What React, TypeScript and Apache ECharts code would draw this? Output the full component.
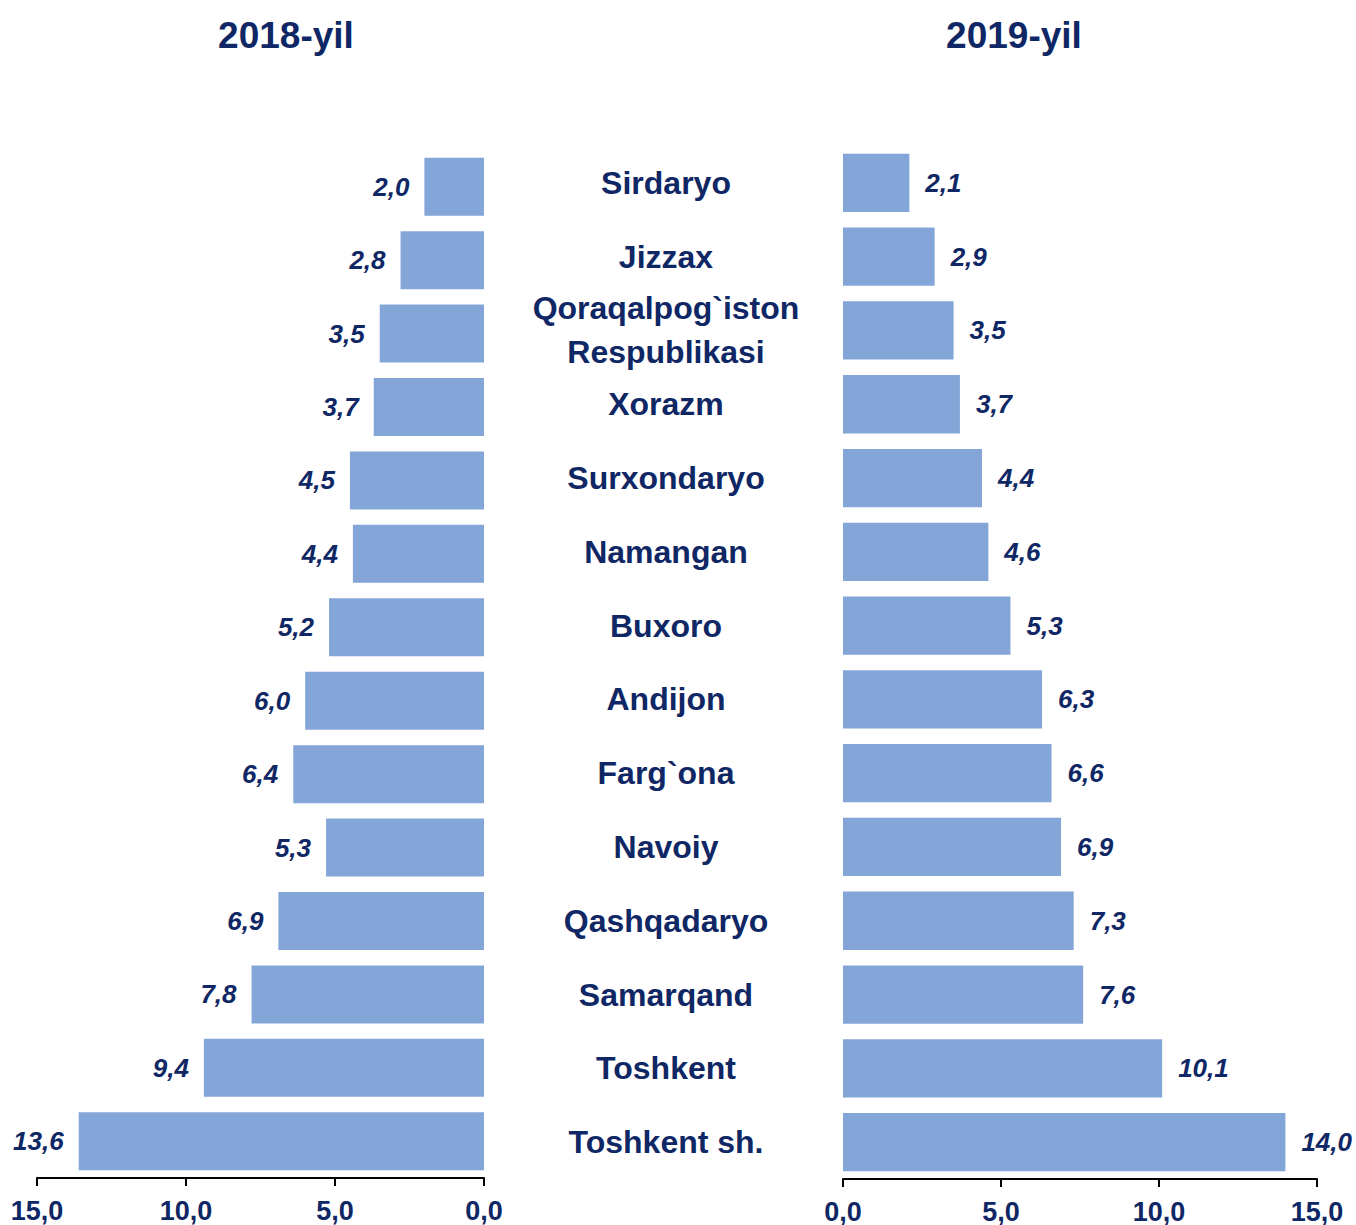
import React, { useEffect, useRef } from "react";
import * as echarts from "echarts";

const regions = [
  "Sirdaryo",
  "Jizzax",
  "Qoraqalpog`iston\nRespublikasi",
  "Xorazm",
  "Surxondaryo",
  "Namangan",
  "Buxoro",
  "Andijon",
  "Farg`ona",
  "Navoiy",
  "Qashqadaryo",
  "Samarqand",
  "Toshkent",
  "Toshkent sh.",
];
const values2018 = [2.0, 2.8, 3.5, 3.7, 4.5, 4.4, 5.2, 6.0, 6.4, 5.3, 6.9, 7.8, 9.4, 13.6];
const values2019 = [2.1, 2.9, 3.5, 3.7, 4.4, 4.6, 5.3, 6.3, 6.6, 6.9, 7.3, 7.6, 10.1, 14.0];
const titles = ["2018-yil", "2019-yil"];

const NAVY = "#0f2764";
const BAR = "#84a5d8";
const FONT = "Arial, 'Liberation Sans', Helvetica, sans-serif";

const fmt = (v: number) => v.toFixed(1).replace(".", ",");

export default function App() {
  const ref = useRef<HTMLDivElement>(null);
  useEffect(() => {
    if (!ref.current) return;
    const chart = echarts.init(ref.current, null, { renderer: "svg" });
    const axisCommon = {
      type: "value" as const,
      min: 0,
      max: 15,
      interval: 5,
      splitLine: { show: false },
      axisLine: { show: true, lineStyle: { color: "#000", width: 2 } },
      axisTick: { show: true, length: 8, lineStyle: { color: "#000", width: 2 } },
      axisLabel: {
        color: NAVY,
        fontFamily: FONT,
        fontWeight: "bold" as const,
        fontSize: 27,
        margin: 19,
        formatter: (v: number) => fmt(v),
      },
    };
    const titleStyle = { color: NAVY, fontFamily: FONT, fontWeight: "bold" as const, fontSize: 37 };
    chart.setOption({
      animation: false,
      backgroundColor: "#fff",
      title: [
        { text: titles[0], left: 281, top: 12, textAlign: "center", textStyle: titleStyle },
        { text: titles[1], left: 1009, top: 12, textAlign: "center", textStyle: titleStyle },
      ],
      grid: [
        { left: 37, width: 447, top: 150, height: 1028 },
        { left: 843, width: 474, top: 146, height: 1033 },
      ],
      xAxis: [
        { ...axisCommon, gridIndex: 0, inverse: true },
        { ...axisCommon, gridIndex: 1 },
      ],
      yAxis: [
        {
          type: "category",
          gridIndex: 0,
          data: regions,
          inverse: true,
          position: "right",
          axisLine: { show: false },
          axisTick: { show: false },
          axisLabel: { show: false },
        },
        {
          type: "category",
          gridIndex: 1,
          data: regions,
          inverse: true,
          position: "left",
          axisLine: { show: false },
          axisTick: { show: false },
          axisLabel: {
            show: true,
            margin: 177,
            align: "center",
            color: NAVY,
            fontFamily: FONT,
            fontWeight: "bold",
            fontSize: 32,
            lineHeight: 44,
          },
        },
      ],
      series: [
        {
          type: "bar",
          xAxisIndex: 0,
          yAxisIndex: 0,
          data: values2018,
          barCategoryGap: "21%",
          itemStyle: { color: BAR },
          label: {
            show: true,
            position: "left",
            distance: 15,
            color: NAVY,
            fontFamily: FONT,
            fontWeight: "bold",
            fontStyle: "italic",
            fontSize: 26,
            formatter: (p: any) => fmt(p.value),
          },
        },
        {
          type: "bar",
          xAxisIndex: 1,
          yAxisIndex: 1,
          data: values2019,
          barCategoryGap: "21%",
          itemStyle: { color: BAR },
          label: {
            show: true,
            position: "right",
            distance: 16,
            color: NAVY,
            fontFamily: FONT,
            fontWeight: "bold",
            fontStyle: "italic",
            fontSize: 26,
            formatter: (p: any) => fmt(p.value),
          },
        },
      ],
    });
    return () => chart.dispose();
  }, []);
  return (
    <div
      ref={ref}
      style={{ position: "fixed", left: 0, top: 0, width: 1356, height: 1225 }}
    />
  );
}
